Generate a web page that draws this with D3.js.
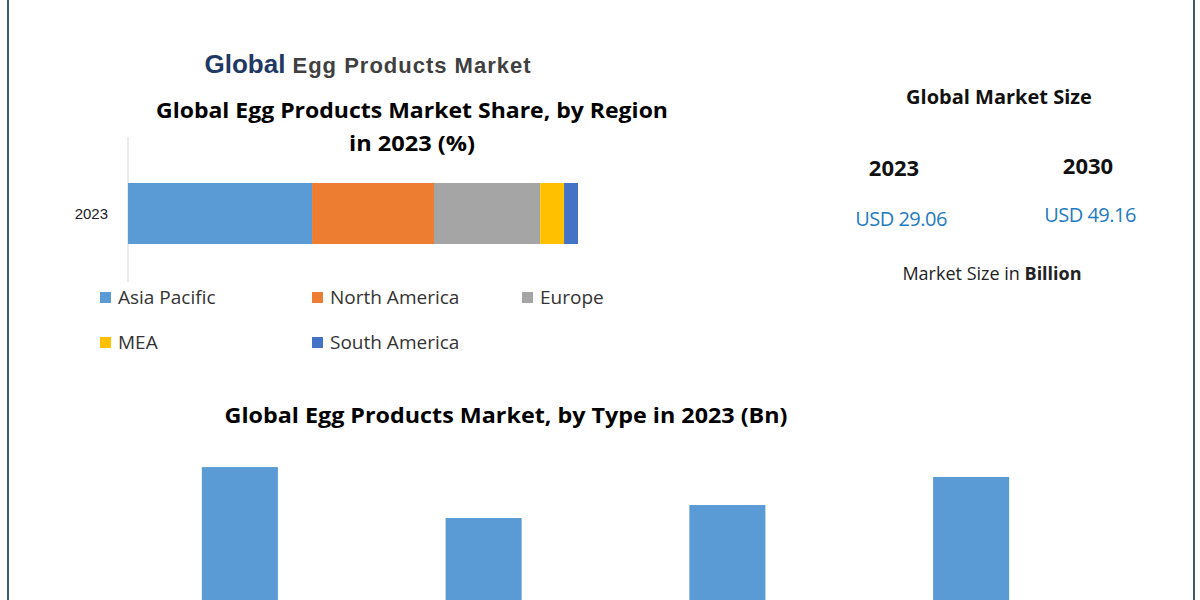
<!DOCTYPE html><html><head><meta charset="utf-8">
<script src="https://cdn.jsdelivr.net/npm/d3@7"></script>
<style>body{margin:0;background:#fff}svg{display:block}</style></head><body>
<script>
const regions=["Asia Pacific","North America","Europe","MEA","South America"];
const regionShare=[40.9,27.1,23.6,5.3,3.1];
const regionColors=["#5b9bd5","#ed7d31","#a5a5a5","#ffc000","#4472c4"];
const shareYear=["2023"];
const types=["Type A","Type B","Type C","Type D"];
const typeValues=[7.42,5.46,5.96,7.04];
const sizeYears=["2023","2030"];
const sizeValues=["USD 29.06","USD 49.16"];

const svg=d3.select("body").append("svg").attr("width",1200).attr("height",600);
svg.append("rect").attr("x",8).attr("y",-5).attr("width",1186).attr("height",620).attr("fill","none").attr("stroke","#3d5a73").attr("stroke-width",2);

const t=svg.append("text").attr("x",368).attr("y",73).attr("text-anchor","middle").attr("font-family","Liberation Sans, Arial").attr("font-weight","bold");
t.append("tspan").text("Global").attr("fill","#1f3864").attr("font-size",26).attr("font-family","Liberation Sans Narrow, Arial");
t.append("tspan").text(" Egg Products Market").attr("fill","#404040").attr("font-size",22).attr("letter-spacing",1);

const sub={"font-family":"Open Sans, sans-serif","font-weight":"bold","font-size":21,"fill":"#000"};
function st(s,o){for(const k in o)s.attr(k,o[k]);return s;}
st(svg.append("text").attr("x",412).attr("y",118).attr("text-anchor","middle").attr("textLength",512).attr("lengthAdjust","spacingAndGlyphs").text("Global Egg Products Market Share, by Region"),sub);
st(svg.append("text").attr("x",412).attr("y",151).attr("text-anchor","middle").attr("textLength",126).attr("lengthAdjust","spacingAndGlyphs").text("in 2023 (%)"),sub);

const x=d3.scaleLinear().domain([0,100]).range([128,578]);
const yb=d3.scaleBand().domain(shareYear).range([137,290]).padding(0.3);
svg.append("line").attr("x1",128).attr("x2",128).attr("y1",137).attr("y2",282).attr("stroke","#d9d9d9");
let cum=0;
const segs=regionShare.map((v,i)=>{const s={x0:cum,x1:cum+v,c:regionColors[i]};cum+=v;return s;});
svg.selectAll("rect.seg").data(segs).join("rect").attr("x",d=>x(d.x0)).attr("width",d=>x(d.x1)-x(d.x0))
 .attr("y",183).attr("height",61).attr("fill",d=>d.c);
svg.append("text").attr("x",108).attr("y",219).attr("text-anchor","end").attr("font-family","Liberation Sans, Arial").attr("font-size",15).attr("fill","#222").text(shareYear[0]);

const lpos=[[100,297],[312,297],[522,297],[100,342],[312,342]];
regions.forEach((r,i)=>{
 svg.append("rect").attr("x",lpos[i][0]).attr("y",lpos[i][1]-5).attr("width",11).attr("height",11).attr("fill",regionColors[i]);
 svg.append("text").attr("x",lpos[i][0]+18).attr("y",lpos[i][1]+7).attr("font-family","Open Sans, sans-serif").attr("font-size",19).attr("fill","#333").text(r);
});

st(svg.append("text").attr("x",506).attr("y",423).attr("text-anchor","middle").attr("textLength",563).attr("lengthAdjust","spacingAndGlyphs").text("Global Egg Products Market, by Type in 2023 (Bn)"),sub);
const xb=d3.scaleBand().domain(types).range([118,1093]).paddingInner(0.688).paddingOuter(0.344);
const yv=d3.scaleLinear().domain([0,10]).range([660,400]);
svg.selectAll("rect.tb").data(typeValues).join("rect").attr("x",(d,i)=>xb(types[i])).attr("width",xb.bandwidth())
 .attr("y",d=>yv(d)).attr("height",d=>yv(0)-yv(d)).attr("fill","#5b9bd5");

const ff="Open Sans, sans-serif";
svg.append("text").attr("x",999).attr("y",104).attr("text-anchor","middle").attr("font-family",ff).attr("font-weight","bold").attr("font-size",20).attr("fill","#111").text("Global Market Size");
[[894,176,901,226],[1088,174,1090,222]].forEach((p,i)=>{
 svg.append("text").attr("x",p[0]).attr("y",p[1]).attr("text-anchor","middle").attr("font-family",ff).attr("font-weight","bold").attr("font-size",22).attr("fill","#111").text(sizeYears[i]);
 svg.append("text").attr("x",p[2]).attr("y",p[3]).attr("text-anchor","middle").attr("font-family",ff).attr("font-size",20).attr("letter-spacing",-0.5).attr("fill","#1f7bc1").text(sizeValues[i]);
});
const m=svg.append("text").attr("x",992).attr("y",280).attr("text-anchor","middle").attr("font-family",ff).attr("font-size",18).attr("fill","#222");
m.append("tspan").text("Market Size in ");m.append("tspan").attr("font-weight","bold").text("Billion");
</script></body></html>
